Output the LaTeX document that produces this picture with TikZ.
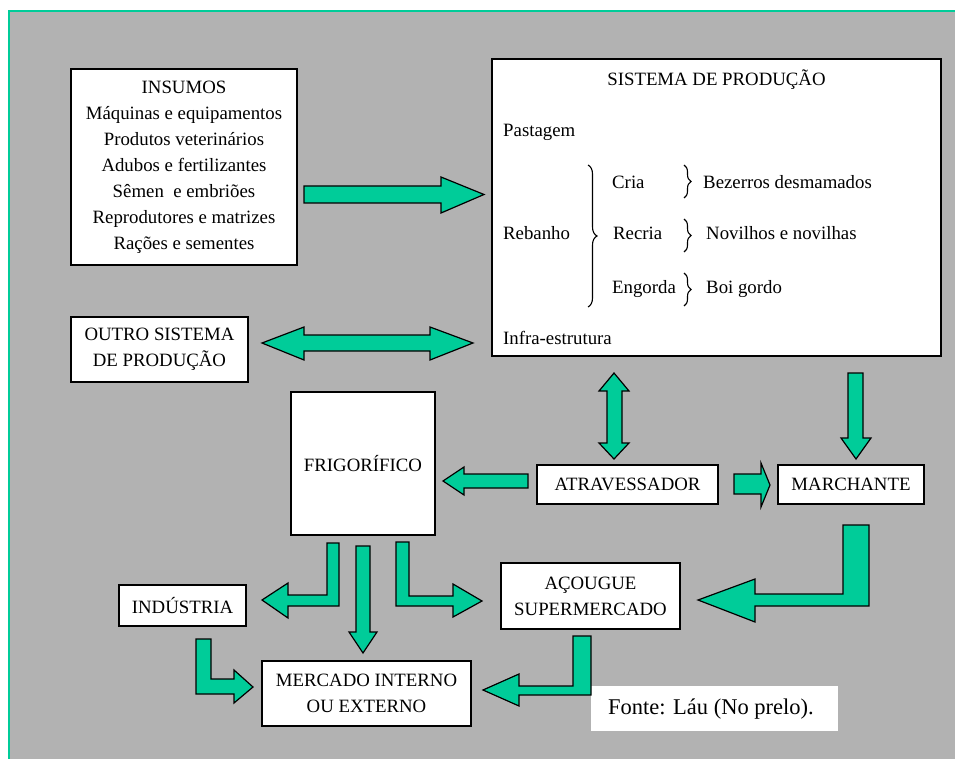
\documentclass[tikz,border=0pt]{standalone}
\usepackage{fontspec}
\setmainfont{Liberation Serif}
\usetikzlibrary{decorations.pathreplacing}
\definecolor{bggray}{RGB}{178,178,178}
\definecolor{arrgreen}{RGB}{0,204,153}
\begin{document}
\begin{tikzpicture}[x=1pt,y=-1pt,
  box/.style={draw=black,line width=1.4pt,fill=white,inner sep=0pt,align=center,
    font=\fontsize{18.8}{26}\selectfont},
  lbl/.style={anchor=base west,inner sep=0pt,font=\fontsize{18.8}{26}\selectfont},
  blk/.style={fill=arrgreen,draw=black,line width=1.2pt,line join=miter},
  brc/.style={decorate,decoration={brace,amplitude=#1},line width=1.1pt}]
\useasboundingbox (0,0) rectangle (955,759);
\fill[white] (0,0) rectangle (955,759);
\fill[bggray] (9,11) rectangle (955,759);
\draw[arrgreen,line width=2pt] (9,759) -- (9,11) -- (955,11);

% boxes
\node[box,minimum width=226pt,minimum height=196pt] (insumos) at (184,167)
  {INSUMOS\\Máquinas e equipamentos\\Produtos veterinários\\Adubos e fertilizantes\\Sêmen\ \ e embriões\\Reprodutores e matrizes\\Rações e sementes};
\node[box,minimum width=449pt,minimum height=297pt] (sistema) at (716.5,207.5) {};
\node[box,minimum width=177pt,minimum height=65pt] (outro) at (159.5,349.5) {OUTRO SISTEMA\\DE PRODUÇÃO};
\node[box,minimum width=144pt,minimum height=143pt] (frig) at (363,463.5) {FRIGORÍFICO};
\node[box,minimum width=181pt,minimum height=39pt] (atrav) at (627.5,484.5) {ATRAVESSADOR};
\node[box,minimum width=146pt,minimum height=39pt] (march) at (851,484.5) {MARCHANTE};
\node[box,minimum width=179pt,minimum height=66pt] (acougue) at (590.5,596) {AÇOUGUE\\SUPERMERCADO};
\node[box,minimum width=127pt,minimum height=41pt] (ind) at (182.5,605.5) {INDÚSTRIA};
\node[box,minimum width=209pt,minimum height=65pt] (mercado) at (366.5,693.5) {MERCADO INTERNO\\OU EXTERNO};
\node[fill=white,minimum width=247pt,minimum height=45pt,inner sep=0pt] (fontebox) at (714.5,708.5) {};
\node[anchor=west,inner sep=0pt,font=\fontsize{22.5}{26}\selectfont] (fonte) at (608,709) {Fonte: Láu (No prelo).};

% texts inside SISTEMA DE PRODUÇÃO
\node[lbl,anchor=base] (titulo) at (716.5,86) {SISTEMA DE PRODUÇÃO};
\node[lbl] (past) at (503,137) {Pastagem};
\node[lbl] (reb) at (503,240) {Rebanho};
\node[lbl] (cria) at (612,189) {Cria};
\node[lbl] (recria) at (613,240) {Recria};
\node[lbl] (eng) at (612,293) {Engorda};
\node[lbl] (bez) at (703,189) {Bezerros desmamados};
\node[lbl] (nov) at (706,240) {Novilhos e novilhas};
\node[lbl] (boi) at (706,293) {Boi gordo};
\node[lbl] (infra) at (503,344) {Infra-estrutura};
\draw[brc=9pt] (588,165) -- (588,307);
\draw[brc=7pt] (684,165) -- (684,198);
\draw[brc=7pt] (684,219) -- (684,252);
\draw[brc=7pt] (684,273) -- (684,306);

% block arrows
\draw[blk] (304,186) -- (441,186) -- (441,177) -- (484,194.5) -- (441,213) -- (441,203) -- (304,203) -- cycle;
\draw[blk] (262,343) -- (304,327) -- (304,335) -- (430,335) -- (430,327) -- (473,343) -- (430,360) -- (430,351) -- (304,351) -- (304,360) -- cycle;
\draw[blk] (614,373) -- (629,391) -- (622,391) -- (622,443) -- (629,443) -- (614,459) -- (599,443) -- (607,443) -- (607,391) -- (599,391) -- cycle;
\draw[blk] (848,373) -- (863,373) -- (863,438) -- (871,438) -- (856,459) -- (841,438) -- (848,438) -- cycle;
\draw[blk] (528,474) -- (528,488) -- (464,488) -- (464,495) -- (443,481) -- (464,467) -- (464,474) -- cycle;
\draw[blk] (734,474) -- (761,474) -- (761,463) -- (770,485) -- (761,507) -- (761,494) -- (734,494) -- cycle;
\draw[blk] (843,525) -- (869,525) -- (869,606) -- (755,606) -- (755,622) -- (698,600) -- (755,579) -- (755,594) -- (843,594) -- cycle;
\draw[blk] (573,636) -- (591,636) -- (591,695) -- (519,695) -- (519,706) -- (483,690) -- (519,674) -- (519,686) -- (573,686) -- cycle;
\draw[blk] (327,543) -- (339,543) -- (339,606) -- (288,606) -- (288,618) -- (262,600) -- (288,583) -- (288,595) -- (327,595) -- cycle;
\draw[blk] (356,546) -- (370,546) -- (370,632) -- (377,632) -- (363,653) -- (349,632) -- (356,632) -- cycle;
\draw[blk] (396,542) -- (409,542) -- (409,596) -- (453,596) -- (453,584) -- (482,601) -- (453,617) -- (453,606) -- (396,606) -- cycle;
\draw[blk] (196,639) -- (211,639) -- (211,679) -- (234,679) -- (234,670) -- (253,687) -- (234,703) -- (234,694) -- (196,694) -- cycle;
\end{tikzpicture}
\end{document}
